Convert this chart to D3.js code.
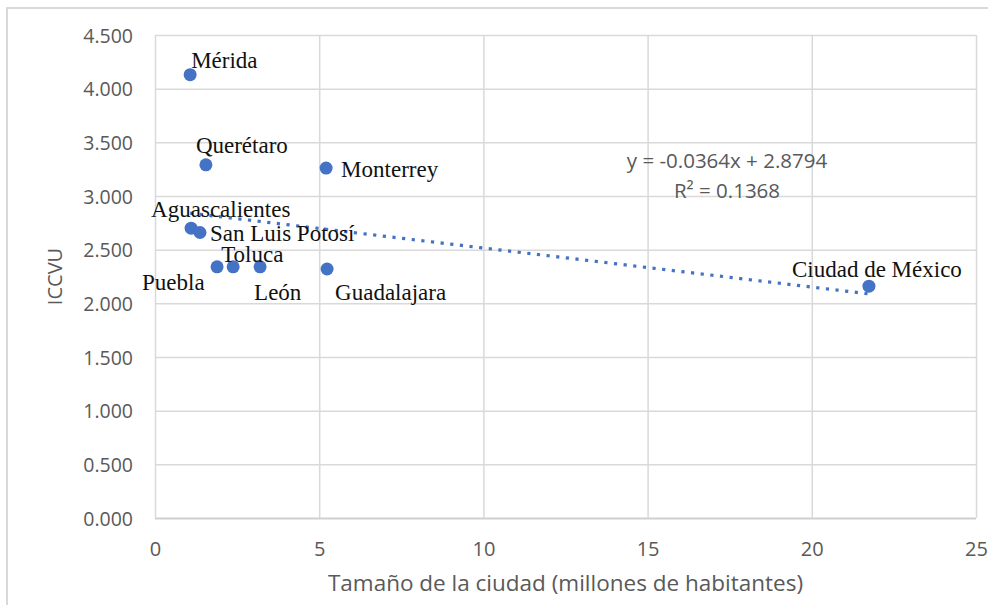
<!DOCTYPE html>
<html>
<head>
<meta charset="utf-8">
<script src="https://cdn.jsdelivr.net/npm/d3@7/dist/d3.min.js"></script>
<style>
  html, body { margin: 0; padding: 0; background: #fff; }
  svg { display: block; }
</style>
</head>
<body>
<svg id="chart" width="998" height="605"></svg>
<script>
// ---- data ----
const cities = ["Mérida", "Querétaro", "Monterrey", "Aguascalientes", "San Luis Potosí",
                "Puebla", "Toluca", "León", "Guadalajara", "Ciudad de México"];
const sizeMillions = [1.07, 1.55, 5.21, 1.10, 1.37, 1.89, 2.38, 3.20, 5.24, 21.74];
const iccvu = [4.13, 3.29, 3.26, 2.70, 2.66, 2.34, 2.34, 2.34, 2.32, 2.16];
const yTicks = [0, 0.5, 1, 1.5, 2, 2.5, 3, 3.5, 4, 4.5];
const xTicks = [0, 5, 10, 15, 20, 25];
const trendSlope = -0.0364;
const trendIntercept = 2.8794;
const rSquared = 0.1368;
const xTitle = "Tamaño de la ciudad (millones de habitantes)";
const yTitle = "ICCVU";

// ---- label placement (style, pixel offsets from each point) ----
const labelOffsets = {
  "Mérida": [1, -7],
  "Querétaro": [-10, -12],
  "Monterrey": [15, 9],
  "Aguascalientes": [-40, -11],
  "San Luis Potosí": [10, 9],
  "Puebla": [-75, 23],
  "Toluca": [-12, -5],
  "León": [-6, 33],
  "Guadalajara": [8, 31],
  "Ciudad de México": [-77, -9]
};

const svg = d3.select("#chart");
const plot = { left: 155, right: 976, top: 35, bottom: 518 };

const x = d3.scaleLinear().domain([0, 25]).range([plot.left, plot.right]);
const y = d3.scaleLinear().domain([0, 4.5]).range([plot.bottom, plot.top]);

const grayText = "#595959";
const gridColor = "#d9d9d9";
const blue = "#4472C4";
const sans = "'Open Sans', 'Noto Sans', sans-serif";
const serif = "'Liberation Serif', 'DejaVu Serif', serif";

// outer chart border
svg.append("path")
  .attr("d", "M7,605 L7,8 L988,8")
  .attr("fill", "none")
  .attr("stroke", "#d9d9d9")
  .attr("stroke-width", 2);

// horizontal gridlines via axis
const yAxis = d3.axisLeft(y).tickValues(yTicks)
  .tickSize(-(plot.right - plot.left))
  .tickFormat(d => d3.format(".3f")(d));
const gy = svg.append("g").attr("transform", `translate(${plot.left},0)`).call(yAxis);
gy.select(".domain").remove();
gy.selectAll(".tick line").attr("stroke", gridColor).attr("stroke-width", 1.5);
gy.selectAll(".tick text")
  .attr("x", -22)
  .attr("dy", "0.36em")
  .attr("fill", grayText)
  .style("font-family", sans)
  .style("font-size", "19.5px");
gy.selectAll(".tick").filter(d => d === 0).select("line")
  .attr("stroke", "#cfcfcf").attr("stroke-width", 2);

// vertical gridlines via axis
const xAxis = d3.axisBottom(x).tickValues(xTicks)
  .tickSize(-(plot.bottom - plot.top))
  .tickFormat(d3.format("d"));
const gx = svg.append("g").attr("transform", `translate(0,${plot.bottom})`).call(xAxis);
gx.select(".domain").remove();
gx.selectAll(".tick line").attr("stroke", gridColor).attr("stroke-width", 1.5);
gx.selectAll(".tick text")
  .attr("y", 24)
  .attr("dy", "0.71em")
  .attr("fill", grayText)
  .style("font-family", sans)
  .style("font-size", "20px");

// trendline
const xExt = d3.extent(sizeMillions);
const trend = xExt.map(v => [v, trendIntercept + trendSlope * v]);
svg.append("path")
  .datum(trend)
  .attr("d", d3.line().x(d => x(d[0])).y(d => y(d[1])))
  .attr("fill", "none")
  .attr("stroke", blue)
  .attr("stroke-width", 3.2)
  .attr("stroke-dasharray", "3.2,6.5");

// points
const data = cities.map((c, i) => ({ city: c, sx: sizeMillions[i], v: iccvu[i] }));
svg.append("g").selectAll("circle")
  .data(data).join("circle")
  .attr("cx", d => x(d.sx))
  .attr("cy", d => y(d.v))
  .attr("r", 6.5)
  .attr("fill", blue);

// point labels
svg.append("g").selectAll("text")
  .data(data).join("text")
  .attr("x", d => x(d.sx) + labelOffsets[d.city][0])
  .attr("y", d => y(d.v) + labelOffsets[d.city][1])
  .attr("fill", "#111")
  .style("font-family", serif)
  .style("font-size", "23px")
  .text(d => d.city);

// equation
const eq = svg.append("g").attr("fill", grayText)
  .style("font-family", sans).style("font-size", "20.5px")
  .attr("text-anchor", "middle");
eq.append("text")
  .attr("x", 727).attr("y", 168)
  .text(`y = ${trendSlope}x + ${trendIntercept}`);
eq.append("text")
  .attr("x", 727).attr("y", 198)
  .text(`R² = ${rSquared}`);

// axis titles
svg.append("text")
  .attr("x", (plot.left + plot.right) / 2)
  .attr("y", 591)
  .attr("text-anchor", "middle")
  .attr("fill", grayText)
  .style("font-family", sans)
  .style("font-size", "22.5px")
  .text(xTitle);

svg.append("text")
  .attr("transform", `translate(62,${(plot.top + plot.bottom) / 2}) rotate(-90)`)
  .attr("text-anchor", "middle")
  .attr("fill", grayText)
  .style("font-family", sans)
  .style("font-size", "20px")
  .text(yTitle);
</script>
</body>
</html>
